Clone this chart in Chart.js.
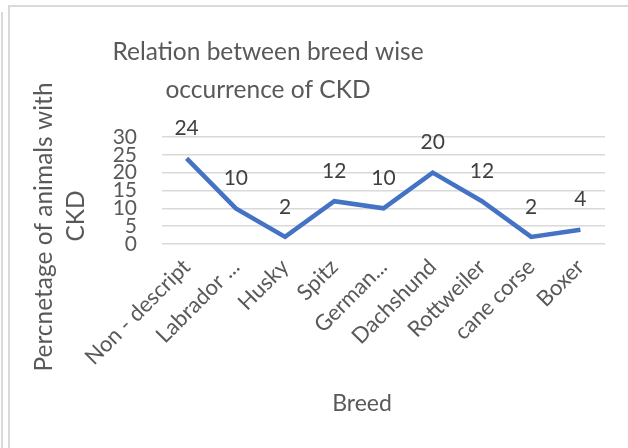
<!DOCTYPE html>
<html>
<head>
<meta charset="utf-8">
<script src="https://cdn.jsdelivr.net/npm/chart.js@4"></script>
<style>
  html, body { margin: 0; padding: 0; background: #fff; }
  #wrap { position: relative; width: 628px; height: 448px; overflow: hidden; }
  #edge { position: absolute; left: 1px; top: 12px; width: 2px; height: 460px; background: #d9d9d9; }
  #frame { position: absolute; left: 8px; top: 5px; width: 640px; height: 460px; border: 2px solid #d9d9d9; box-sizing: border-box; }
  canvas { position: absolute; left: 0; top: 0; }
</style>
</head>
<body>
<div id="wrap">
  <div id="edge"></div>
  <div id="frame"></div>
  <canvas id="chart" width="628" height="448"></canvas>
</div>
<script>
// === BREED WISE CKD LINE CHART ===

const breeds    = ["Non - descript", "Labrador ...", "Husky", "Spitz", "German...", "Dachshund", "Rottweiler", "cane corse", "Boxer"];
const ckdValues = [24, 10, 2, 12, 10, 20, 12, 2, 4];
const yTicks    = [0, 5, 10, 15, 20, 25, 30];

const titleLines  = ["Relation between breed wise", "occurrence of CKD"];
const yTitleLines = ["Percnetage of animals with", "CKD"];
const xTitle      = "Breed";

const FONT      = "Lato, 'Open Sans', sans-serif";
const TEXT_COL  = "#595959";
const LABEL_COL = "#404040";
const LINE_COL  = "#4472C4";

// titles + data labels drawn straight onto the canvas
const textPlugin = {
  id: "textPlugin",
  afterDraw(chart) {
    const { ctx } = chart;
    ctx.save();
    ctx.textAlign = "center";
    ctx.textBaseline = "middle";

    ctx.fillStyle = TEXT_COL;
    ctx.font = `24.5px ${FONT}`;
    ctx.fillText(titleLines[0], 268, 52);
    ctx.fillText(titleLines[1], 268, 90);

    ctx.font = `23px ${FONT}`;
    ctx.fillText(xTitle, 362, 404);

    ctx.font = `24.5px ${FONT}`;
    ctx.save();
    ctx.translate(44, 227);
    ctx.rotate(-Math.PI / 2);
    ctx.fillText(yTitleLines[0], 0, 0);
    ctx.restore();
    ctx.save();
    ctx.translate(76, 216);
    ctx.rotate(-Math.PI / 2);
    ctx.fillText(yTitleLines[1], 0, 0);
    ctx.restore();

    ctx.fillStyle = LABEL_COL;
    ctx.font = `21px ${FONT}`;
    const meta = chart.getDatasetMeta(0);
    meta.data.forEach((pt, i) => {
      ctx.fillText(String(ckdValues[i]), pt.x, pt.y - 30);
    });
    ctx.restore();
  },
};

new Chart(document.getElementById("chart"), {
  type: "line",
  data: {
    labels: breeds,
    datasets: [{
      data: ckdValues,
      borderColor: LINE_COL,
      borderWidth: 4.5,
      pointRadius: 0,
      tension: 0,
      fill: false,
    }],
  },
  options: {
    responsive: false,
    animation: false,
    layout: { padding: { top: 137, left: 0, right: 23, bottom: 54 } },
    plugins: {
      legend: { display: false },
      title: { display: false },
      tooltip: { enabled: false },
    },
    scales: {
      x: {
        offset: true,
        afterFit: (scale) => { scale.height = 150; },
        grid: { display: false },
        border: { display: false },
        ticks: {
          autoSkip: false,
          maxRotation: 45,
          minRotation: 45,
          color: TEXT_COL,
          font: { size: 22, family: FONT },
          padding: 2,
        },
      },
      y: {
        min: 0,
        max: 30,
        afterFit: (scale) => { scale.width = 162; },
        afterBuildTicks: (scale) => { scale.ticks = yTicks.map((v) => ({ value: v })); },
        grid: { color: "#d9d9d9", lineWidth: 1.5, drawTicks: false },
        border: { display: false },
        ticks: {
          autoSkip: false,
          color: TEXT_COL,
          font: { size: 21, family: FONT, lineHeight: 1 },
          padding: 25,
        },
      },
    },
  },
  plugins: [textPlugin],
});
</script>
</body>
</html>
